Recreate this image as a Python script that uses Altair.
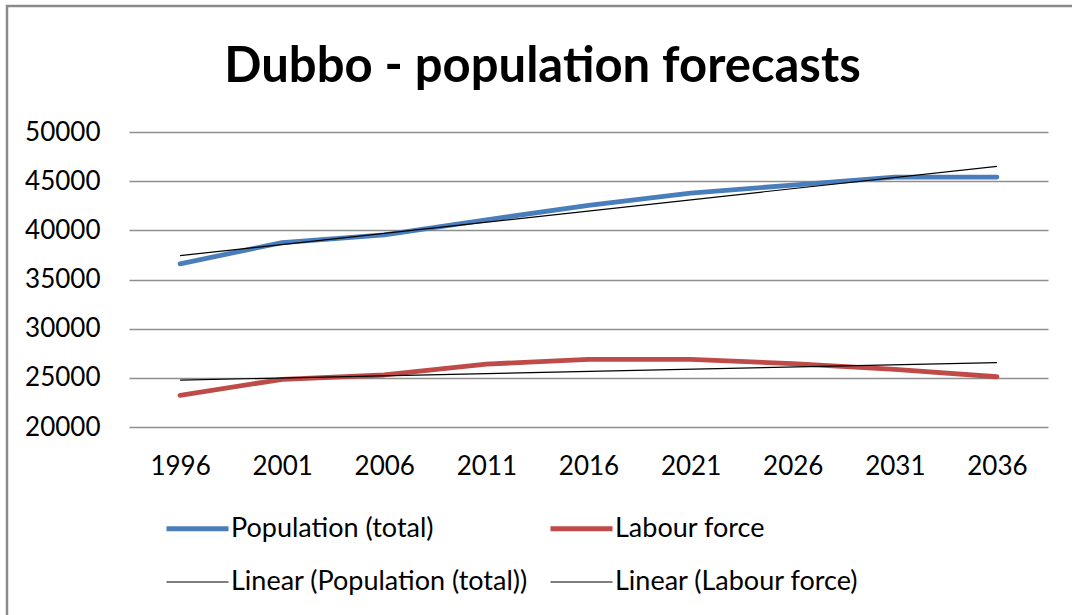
import altair as alt
import pandas as pd

years = [1996, 2001, 2006, 2011, 2016, 2021, 2026, 2031, 2036]
population = [36590, 38760, 39540, 41070, 42530, 43790, 44600, 45420, 45420]
labour = [23220, 24850, 25290, 26400, 26880, 26880, 26450, 25860, 25110]

series_names = ["Population (total)", "Labour force"]
trend_names = ["Linear (Population (total))", "Linear (Labour force)"]
y_ticks = [20000, 25000, 30000, 35000, 40000, 45000, 50000]

rows = []
for yr, p, l in zip(years, population, labour):
    rows.append({"year": yr, "series": series_names[0], "value": p})
    rows.append({"year": yr, "series": series_names[1], "value": l})
df = pd.DataFrame(rows)

# legend order (column-major grid): Pop, Linear Pop | Labour, Linear Labour
domain = [series_names[0], trend_names[0], series_names[1], trend_names[1]]
series_colors = ["#4A7EBB", "#000000", "#BE4B48", "#000000"]
series_widths = [4.8, 1.2, 4.8, 1.2]
FONT = "Lato"

x_enc = alt.X(
    "year:Q",
    scale=alt.Scale(domain=[1993.5, 2038.5], nice=False, zero=False),
    axis=alt.Axis(values=years, format="d", title=None, grid=False, ticks=False,
                  tickSize=0, domain=False, labelPadding=26, labelFont=FONT,
                  labelFontSize=26, labelColor="#000000"),
)
y_enc = alt.Y(
    "value:Q",
    scale=alt.Scale(domain=[20000, 50000], nice=False, zero=False),
    axis=alt.Axis(values=y_ticks, format="d", title=None, grid=True,
                  gridColor="#8E8E8E", gridWidth=1.4, ticks=False, tickSize=0,
                  domain=False, labelPadding=29, labelFont=FONT,
                  labelFontSize=26, labelColor="#000000"),
)
legend_opts = dict(title=None, orient="none", legendX=35, legendY=363,
                   columns=2, symbolType="stroke", symbolSize=3844,
                   labelFont=FONT, labelFontSize=27, labelColor="#000000",
                   labelLimit=500, labelOffset=0, columnPadding=12,
                   rowPadding=8)
color_enc = alt.Color(
    "series:N",
    scale=alt.Scale(domain=domain, range=series_colors),
    legend=alt.Legend(**legend_opts),
)
sw_enc = alt.StrokeWidth(
    "series:N",
    scale=alt.Scale(type="ordinal", domain=domain, range=series_widths),
    legend=alt.Legend(**legend_opts),
)

lines = alt.Chart(df).mark_line(strokeCap="round", strokeJoin="round").encode(
    x=x_enc, y=y_enc, color=color_enc, strokeWidth=sw_enc
)

trend = (
    alt.Chart(df)
    .transform_regression("year", "value", groupby=["series"], extent=[1996, 2036])
    .transform_calculate(series="'Linear (' + datum.series + ')'")
    .mark_line()
    .encode(x=x_enc, y=y_enc, color=color_enc, strokeWidth=sw_enc)
)

frame = alt.Chart(alt.Data(values=[{"f": 1}])).mark_rect(
    fillOpacity=0, stroke="#8A8A8A", strokeWidth=2.5
).encode(
    x=alt.value(-122), y=alt.value(-126), x2=alt.value(1100), y2=alt.value(700)
)

chart = (
    alt.layer(frame, lines, trend)
    .properties(
        width=919,
        height=295,
        title=alt.TitleParams(
            "Dubbo - population forecasts", font=FONT, fontSize=49,
            fontWeight="bold", color="#000000", anchor="middle", dx=-46,
            baseline="alphabetic", offset=-126,
        ),
        autosize=alt.AutoSizeParams(type="none"),
        padding={"left": 129, "top": 132, "right": 24, "bottom": 188},
        background="#FFFFFF",
    )
    .configure_view(stroke=None)
)

chart.save("out.html", embed_options={"renderer": "svg", "actions": False})
